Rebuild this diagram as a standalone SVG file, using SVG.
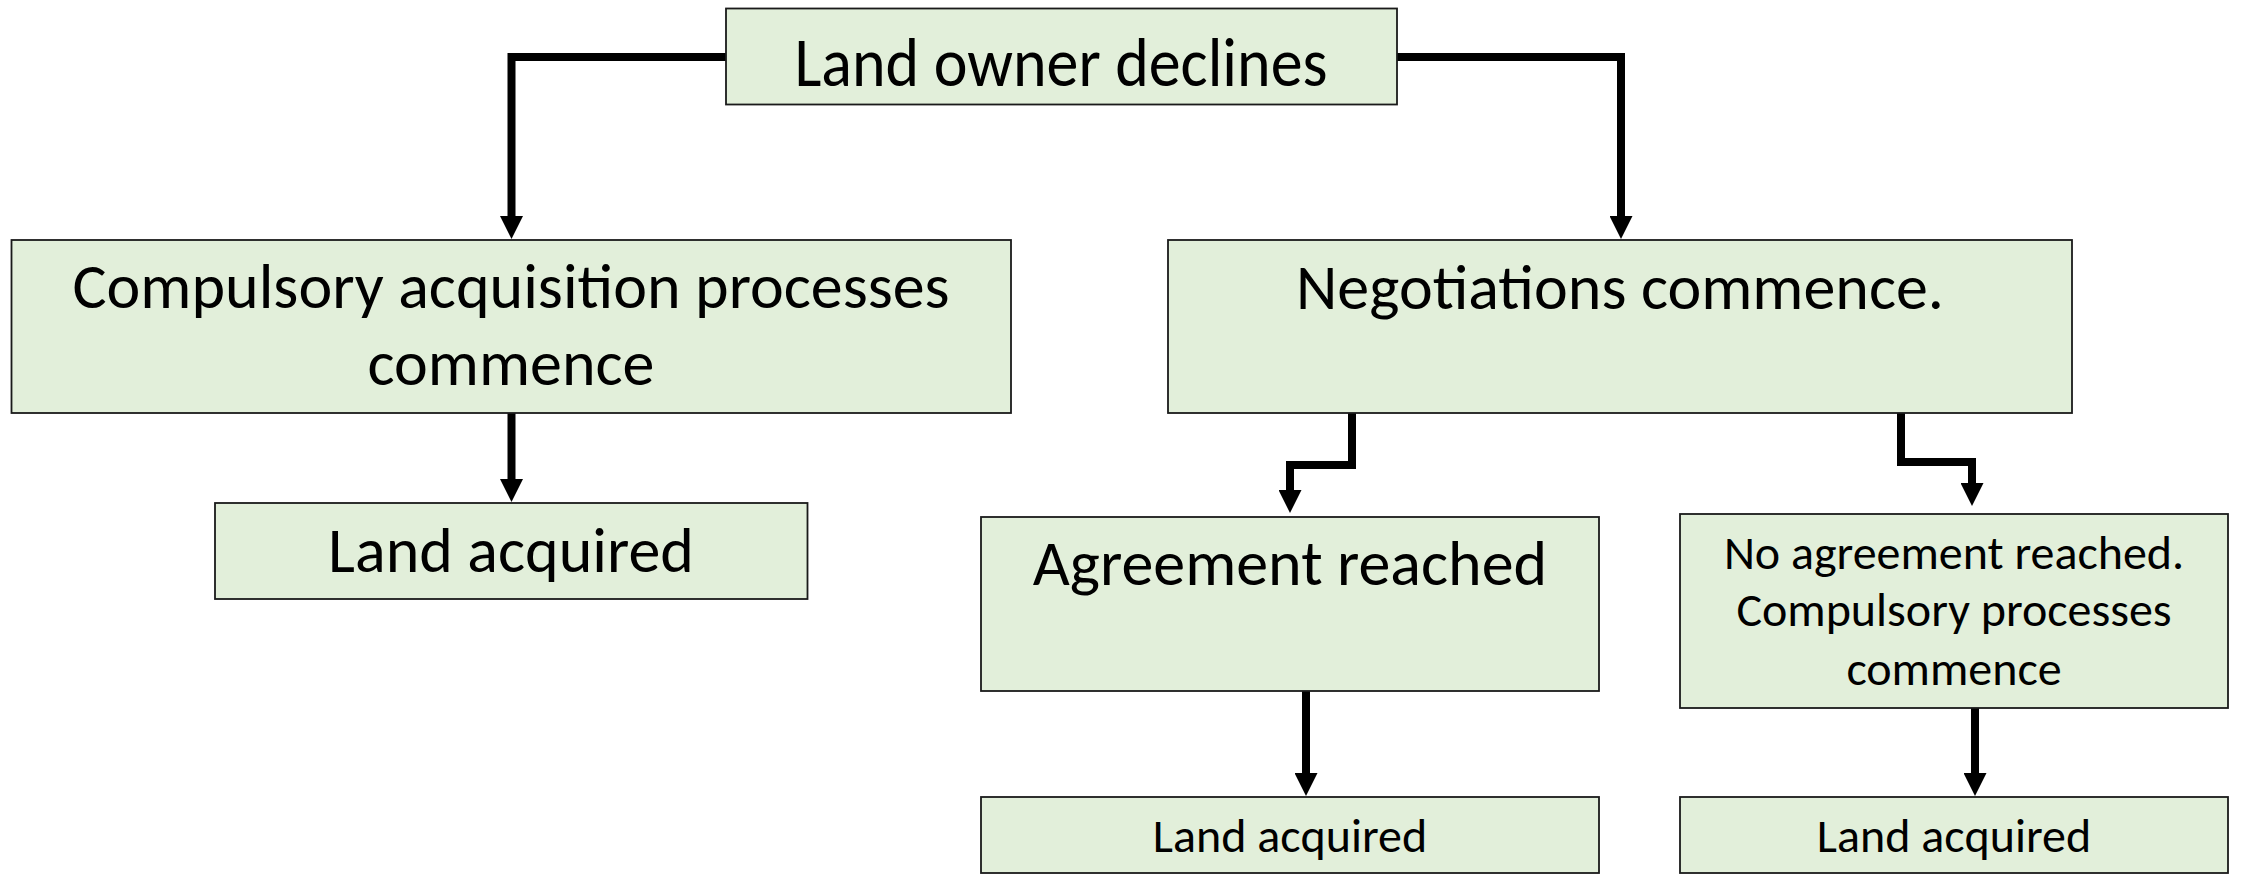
<svg xmlns="http://www.w3.org/2000/svg" width="2245" height="875" viewBox="0 0 2245 875">
<style>
.box{fill:#E2EFDA;stroke:#1a1a1a;stroke-width:1.8}
.t{font-family:Carlito,Calibri,Lato,"Liberation Sans",sans-serif;fill:#000;text-anchor:middle}
.big{font-size:64px}
.small{font-size:48px}
.conn{fill:none;stroke:#000;stroke-width:8;stroke-linejoin:miter}
</style>
<defs>
<marker id="arr" markerWidth="23" markerHeight="23" refX="0" refY="11.5" orient="auto" markerUnits="userSpaceOnUse">
<path d="M0,0 L23,11.5 L0,23 Z" fill="#000"/>
</marker>
</defs>
<g id="connectors">
<path class="conn" d="M726,57 H511.5 V216" marker-end="url(#arr)"/>
<path class="conn" d="M1397,57 H1621 V216" marker-end="url(#arr)"/>
<path class="conn" d="M511.5,413 V479" marker-end="url(#arr)"/>
<path class="conn" d="M1352,413 V465 H1290 V490" marker-end="url(#arr)"/>
<path class="conn" d="M1901,413 V462 H1972 V483" marker-end="url(#arr)"/>
<path class="conn" d="M1306,691 V773" marker-end="url(#arr)"/>
<path class="conn" d="M1975,708 V773" marker-end="url(#arr)"/>
</g>
<g id="n-top">
<rect class="box" x="726" y="8.5" width="671" height="96"/>
<text class="t big" x="1061" y="78" transform="scale(1,1.1)">Land owner declines</text>
</g>
<g id="n-compulsory">
<rect class="box" x="11.5" y="240" width="999.5" height="173"/>
<text class="t big" x="511" y="308">Compulsory acquisition processes</text>
<text class="t big" x="511" y="385">commence</text>
</g>
<g id="n-land1">
<rect class="box" x="215" y="503" width="592.5" height="96"/>
<text class="t big" x="511" y="572">Land acquired</text>
</g>
<g id="n-negotiations">
<rect class="box" x="1168" y="240" width="904" height="173"/>
<text class="t big" x="1620" y="309">Negotiations commence.</text>
</g>
<g id="n-agreement">
<rect class="box" x="981" y="517" width="618" height="174"/>
<text class="t big" x="1290" y="585">Agreement reached</text>
</g>
<g id="n-noagreement">
<rect class="box" x="1680" y="514" width="548" height="194"/>
<text class="t small" x="1954" y="569">No agreement reached.</text>
<text class="t small" x="1954" y="626">Compulsory processes</text>
<text class="t small" x="1954" y="685">commence</text>
</g>
<g id="n-land2">
<rect class="box" x="981" y="797" width="618" height="76"/>
<text class="t small" x="1290" y="852">Land acquired</text>
</g>
<g id="n-land3">
<rect class="box" x="1680" y="797" width="548" height="76"/>
<text class="t small" x="1954" y="852">Land acquired</text>
</g>
</svg>
